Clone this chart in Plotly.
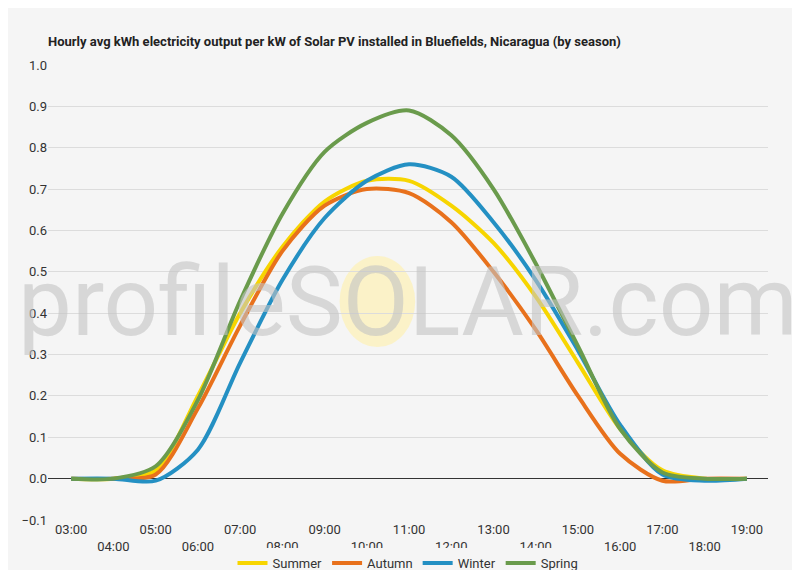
import plotly.graph_objects as go

hours = ["03:00","04:00","05:00","06:00","07:00","08:00","09:00","10:00","11:00",
         "12:00","13:00","14:00","15:00","16:00","17:00","18:00","19:00"]
summer = [0,0,0.02,0.20,0.40,0.56,0.67,0.72,0.72,0.66,0.57,0.44,0.28,0.12,0.02,0,0]
autumn = [0,0,0.01,0.17,0.37,0.55,0.66,0.70,0.69,0.62,0.50,0.36,0.20,0.06,-0.005,0,0]
winter = [0,0,-0.005,0.07,0.28,0.48,0.63,0.72,0.76,0.73,0.62,0.48,0.31,0.13,0.01,-0.005,0]
spring = [0,0,0.03,0.19,0.43,0.64,0.79,0.86,0.89,0.83,0.70,0.52,0.32,0.12,0.015,0,0]

series = [("Summer", summer, "#f7d500"), ("Autumn", autumn, "#e8711c"),
          ("Winter", winter, "#2490c3"), ("Spring", spring, "#6a9b4c")]

x = list(range(len(hours)))
fig = go.Figure()
for name, vals, col in series:
    fig.add_trace(go.Scatter(x=x, y=vals, name=name, mode="lines",
                             line=dict(color=col, width=4, shape="spline", smoothing=0.8)))

ticktext = [h if i % 2 == 0 else "<br>" + h for i, h in enumerate(hours)]

fig.add_shape(type="circle", xref="paper", yref="paper", x0=0.405, x1=0.51, y0=0.38, y1=0.58,
              fillcolor="rgba(255,240,170,0.6)", line=dict(width=0), layer="below")
fig.add_annotation(text="profileSOLAR.com", xref="paper", yref="paper", x=0.5, y=0.48,
                   showarrow=False, font=dict(size=96, color="rgba(195,195,195,0.6)", family="Roboto"))

fig.update_layout(
    width=800, height=570, paper_bgcolor="#f5f5f5", plot_bgcolor="#f5f5f5",
    font=dict(family="Roboto", size=13, color="#333"),
    title=dict(text="<b>Hourly avg kWh electricity output per kW of Solar PV installed in Bluefields, Nicaragua (by season)</b>",
               x=0.05, xanchor="left", y=0.95, font=dict(size=13, color="#222")),
    margin=dict(l=40, r=40, t=57, b=58),
    legend=dict(orientation="h", x=0.5, xanchor="center", yref="container", y=0.0, yanchor="bottom",
                font=dict(size=13)),
    xaxis=dict(tickmode="array", tickvals=x, ticktext=ticktext, range=[-0.55, 16.5],
               showgrid=False, zeroline=False, tickfont=dict(size=13), automargin=False),
    yaxis=dict(range=[-0.1, 1.0], dtick=0.1, tickformat=".1f", gridcolor="#dcdcdc",
               zeroline=True, zerolinecolor="#333", zerolinewidth=1, tickfont=dict(size=13)),
)
fig.write_html("out.html")
